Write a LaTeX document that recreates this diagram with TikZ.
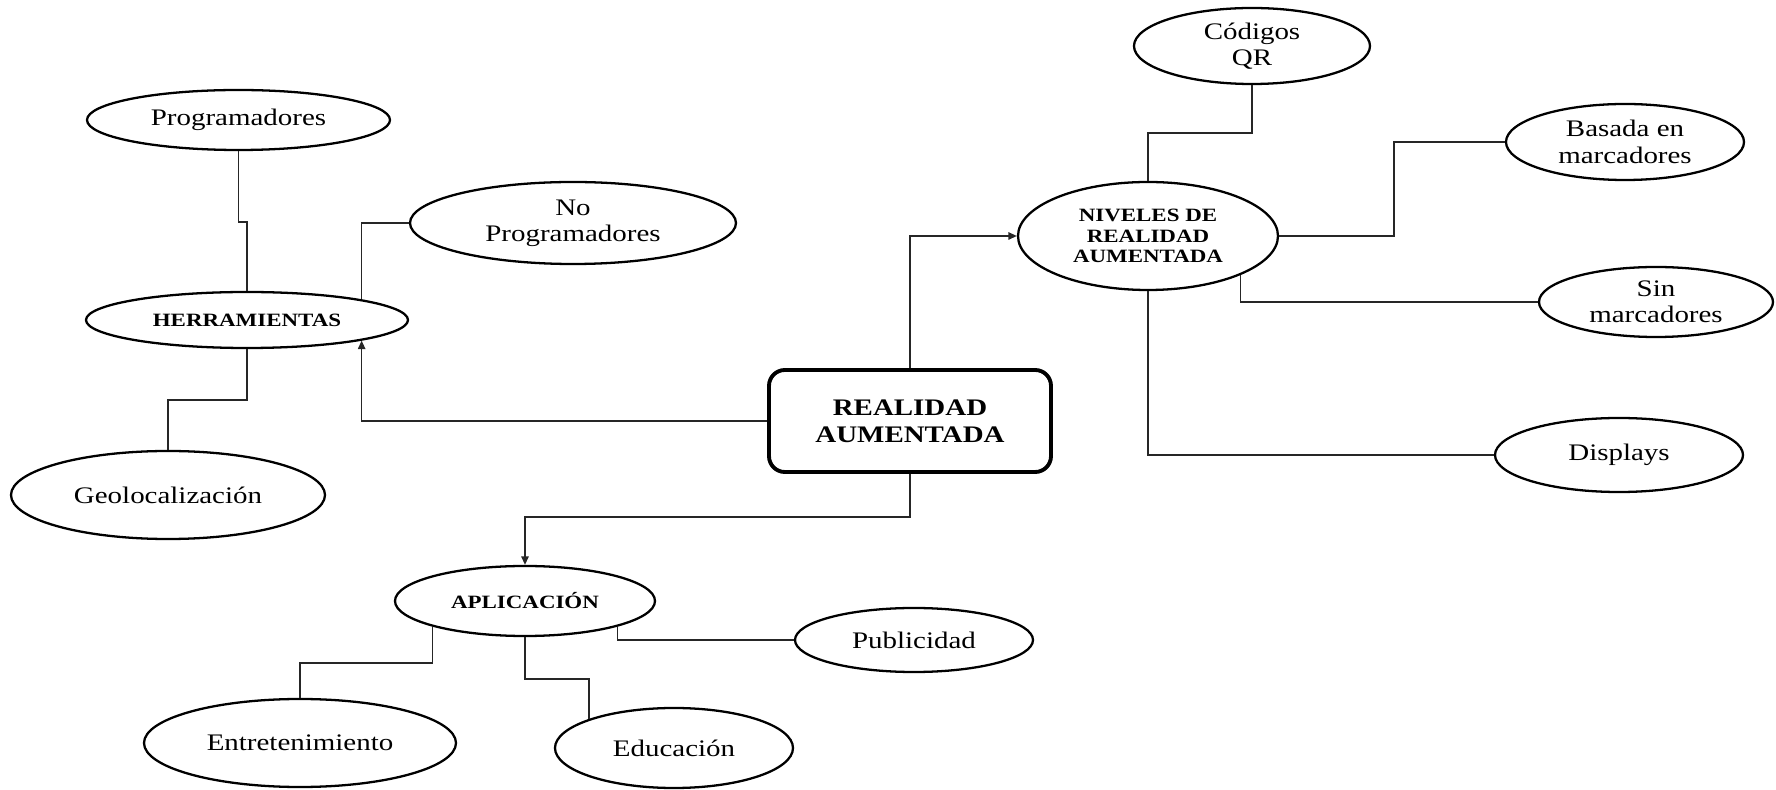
\documentclass[tikz,border=0pt]{standalone}
\usepackage{fontspec}
\setmainfont{Liberation Serif}[FakeStretch=1.22]
\usepackage{tikz}
\usetikzlibrary{shapes.geometric, arrows.meta}

\begin{document}
\begin{tikzpicture}[>={Triangle[length=4.8pt, width=4.2pt]},
		hoja/.style={draw, ellipse, line width=1.3pt, inner sep=0pt, align=center, font=\fontsize{13.5}{15}\selectfont},
		rama/.style={draw, ellipse, line width=1.3pt, inner sep=0pt, align=center, font=\bfseries\fontsize{10.7}{11.5}\selectfont},
		raiz/.style={draw, rectangle, rounded corners=9pt, line width=2.2pt, inner sep=0pt, align=center, font=\bfseries\fontsize{13.5}{15.3}\selectfont},
		enlace/.style={line width=0.8pt, black!85}]
				\useasboundingbox (0,0) rectangle (35.52,-15.8);
				\node[raiz, minimum width=5.64cm, minimum height=2.04cm] (RA)at(18.20, -8.42) {REALIDAD\\AUMENTADA};
				\node[rama, minimum width=6.44cm, minimum height=1.12cm] (HERR)at(4.94, -6.40) {HERRAMIENTAS};
				\node[hoja, minimum width=6.06cm, minimum height=1.20cm] (PROG)at(4.77, -2.40) {Programadores};
				\node[hoja, minimum width=6.52cm, minimum height=1.64cm] (NOPROG)at(11.46, -4.46) {No\\Programadores};
				\node[hoja, minimum width=6.28cm, minimum height=1.76cm] (GEO)at(3.36, -9.90) {Geolocalización};
				\node[rama, minimum width=5.20cm, minimum height=2.16cm] (NIV)at(22.96, -4.72) {NIVELES DE\\REALIDAD\\AUMENTADA};
				\node[hoja, minimum width=4.72cm, minimum height=1.52cm] (QR)at(25.04, -0.92) {Códigos\\QR};
				\node[hoja, minimum width=4.76cm, minimum height=1.52cm] (BAS)at(32.50, -2.84) {Basada en\\marcadores};
				\node[hoja, minimum width=4.68cm, minimum height=1.40cm] (SIN)at(33.12, -6.04) {Sin\\marcadores};
				\node[hoja, minimum width=4.96cm, minimum height=1.48cm] (DISP)at(32.38, -9.10) {Displays};
				\node[rama, minimum width=5.20cm, minimum height=1.40cm] (APL)at(10.50, -12.02) {APLICACIÓN};
				\node[hoja, minimum width=4.76cm, minimum height=1.28cm] (PUB)at(18.28, -12.80) {Publicidad};
				\node[hoja, minimum width=6.24cm, minimum height=1.76cm] (ENT)at(6.00, -14.86) {Entretenimiento};
				\node[hoja, minimum width=4.76cm, minimum height=1.60cm] (EDU)at(13.48, -14.96) {Educación};
				\draw[enlace] (PROG.south) -- ++(0, -1.42) -| (HERR.north);
				\draw[enlace] (NOPROG.west) -| (HERR.north east);
				\draw[enlace] (HERR.south) -- ++(0, -1.02) -| (GEO.north);
				\draw[enlace, ->] (RA.west) -| (HERR.south east);
				\draw[enlace, ->] (RA.north) |- (NIV.west);
				\draw[enlace] (QR.south) -- ++(0, -0.96) -| (NIV.north);
				\draw[enlace] (NIV.east) -- ++(2.30, 0) |- (BAS.west);
				\draw[enlace] (NIV.south east) |- (SIN.west);
				\draw[enlace] (NIV.south) |- (DISP.west);
				\draw[enlace, ->] (RA.south) -- ++(0, -0.86) -| (APL.north);
				\draw[enlace] (APL.south east) |- (PUB.west);
				\draw[enlace] (APL.south west) -- ++(0, -0.73) -| (ENT.north);
				\draw[enlace] (APL.south) -- ++(0, -0.84) -| (EDU.north west);
\end{tikzpicture}
\end{document}
